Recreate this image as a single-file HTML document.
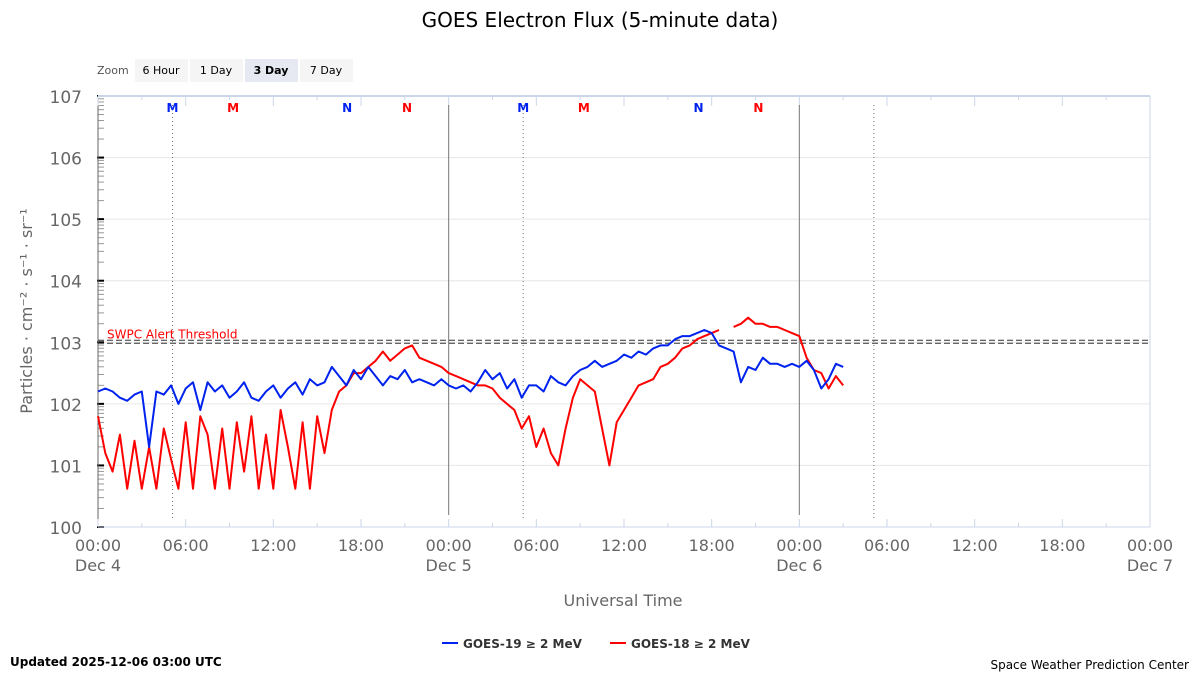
<!DOCTYPE html>
<html><head><meta charset="utf-8"><style>
body{margin:0;background:#fff;font-family:"Liberation Sans","DejaVu Sans",sans-serif}
svg text{font-family:"DejaVu Sans","Liberation Sans",sans-serif}
</style></head><body>
<svg id="c" width="1200" height="675" xmlns="http://www.w3.org/2000/svg">
<text x="600" y="27" text-anchor="middle" font-size="20" fill="#000">GOES Electron Flux (5-minute data)</text>
<text x="97" y="74" font-size="11" fill="#555">Zoom</text>
<g><rect x="135" y="59" width="53" height="23" fill="#f5f5f5"/><text x="161" y="74" text-anchor="middle" font-size="11">6 Hour</text></g>
<g><rect x="190" y="59" width="53" height="23" fill="#f5f5f5"/><text x="216" y="74" text-anchor="middle" font-size="11">1 Day</text></g>
<g><rect x="245" y="59" width="53" height="23" fill="#e6e9f2"/><text x="271" y="74" text-anchor="middle" font-size="11" font-weight="bold">3 Day</text></g>
<g><rect x="300" y="59" width="53" height="23" fill="#f5f5f5"/><text x="326" y="74" text-anchor="middle" font-size="11">7 Day</text></g>
<g id="plot"></g>
<text x="623" y="606" text-anchor="middle" font-size="16" fill="#666">Universal Time</text>
<text transform="translate(32,311) rotate(-90)" text-anchor="middle" font-size="16" fill="#666">Particles · cm⁻² · s⁻¹ · sr⁻¹</text>
<g><line x1="442" y1="643" x2="458" y2="643" stroke="#0022ee" stroke-width="2"/><text x="463" y="648" font-size="12" font-weight="bold" fill="#333">GOES-19 ≥ 2 MeV</text></g>
<g><line x1="610" y1="643" x2="626" y2="643" stroke="#ff0000" stroke-width="2"/><text x="631" y="648" font-size="12" font-weight="bold" fill="#333">GOES-18 ≥ 2 MeV</text></g>
<text x="10" y="666" font-size="12" font-weight="bold" fill="#000">Updated 2025-12-06 03:00 UTC</text>
<text x="1189" y="669" text-anchor="end" font-size="12" fill="#000">Space Weather Prediction Center</text>
</svg>
<script>
const yTicks=[0,1,2,3,4,5,6,7];
const yTickLabels=["100","101","102","103","104","105","106","107"];
const xTicks=[0,6,12,18,24,30,36,42,48,54,60,66,72];
const xTickLabels=["00:00","06:00","12:00","18:00","00:00","06:00","12:00","18:00","00:00","06:00","12:00","18:00","00:00"];
const dayLabels=["Dec 4","Dec 5","Dec 6","Dec 7"];
const threshold=3;
const stepHours=0.5;
const goes19=[2.2,2.25,2.2,2.1,2.05,2.15,2.2,1.3,2.2,2.15,2.3,2.0,2.25,2.35,1.9,2.35,2.2,2.3,2.1,2.2,2.35,2.1,2.05,2.2,2.3,2.1,2.25,2.35,2.15,2.4,2.3,2.35,2.6,2.45,2.3,2.55,2.4,2.6,2.45,2.3,2.45,2.4,2.55,2.35,2.4,2.35,2.3,2.4,2.3,2.25,2.3,2.2,2.35,2.55,2.4,2.5,2.25,2.4,2.1,2.3,2.3,2.2,2.45,2.35,2.3,2.45,2.55,2.6,2.7,2.6,2.65,2.7,2.8,2.75,2.85,2.8,2.9,2.95,2.95,3.05,3.1,3.1,3.15,3.2,3.15,2.95,2.9,2.85,2.35,2.6,2.55,2.75,2.65,2.65,2.6,2.65,2.6,2.7,2.55,2.25,2.4,2.65,2.6];
const goes18=[1.8,1.2,0.9,1.5,0.62,1.4,0.62,1.3,0.62,1.6,1.1,0.62,1.7,0.62,1.8,1.5,0.62,1.6,0.62,1.7,0.9,1.8,0.62,1.5,0.62,1.9,1.3,0.62,1.7,0.62,1.8,1.2,1.9,2.2,2.3,2.5,2.5,2.6,2.7,2.85,2.7,2.8,2.9,2.95,2.75,2.7,2.65,2.6,2.5,2.45,2.4,2.35,2.3,2.3,2.25,2.1,2.0,1.9,1.6,1.8,1.3,1.6,1.2,1.0,1.6,2.1,2.4,2.3,2.2,1.6,1.0,1.7,1.9,2.1,2.3,2.35,2.4,2.6,2.65,2.75,2.9,2.95,3.05,3.1,3.15,3.2,null,3.25,3.3,3.4,3.3,3.3,3.25,3.25,3.2,3.15,3.1,2.75,2.55,2.5,2.25,2.45,2.3];
const L=98,R=1150,T=96,B=527;
const xs=h=>L+(R-L)*h/72, ys=v=>B-(B-T)*v/7;
const NS="http://www.w3.org/2000/svg", g=document.getElementById('plot');
function mk(t,a,p){const e=document.createElementNS(NS,t);for(const k in a)e.setAttribute(k,a[k]);(p||g).appendChild(e);return e;}
yTicks.forEach((v,i)=>{
 const l=mk('line',{x1:L,x2:R,y1:ys(v),y2:ys(v),stroke:'#e6e6e6'});
 
 
 const t=mk('text',{x:82,y:ys(v)+7,'text-anchor':'end','font-size':17,fill:'#666'});t.textContent=yTickLabels[i];
 
 
 for(let m=2;m<10&&v<7;m++){mk('line',{x1:L,x2:L+6,y1:ys(v+Math.log10(m)),y2:ys(v+Math.log10(m)),stroke:'#999'});}
 mk('line',{x1:L-1,x2:L+6,y1:ys(v),y2:ys(v),stroke:'#000','stroke-width':2});
});
mk('line',{x1:L,x2:R,y1:T,y2:T,stroke:'#ccd6eb','stroke-width':2});
mk('line',{x1:R,x2:R,y1:T,y2:B,stroke:'#ccd6eb'});
mk('line',{x1:L,x2:L,y1:T,y2:B,stroke:'#666'});
mk('line',{x1:L,x2:R,y1:B,y2:B,stroke:'#ccd6eb'});
for(let h=0;h<=72;h+=3){mk('line',{x1:xs(h),x2:xs(h),y1:T,y2:T+(h%6?4:10),stroke:'#ccd6eb'});mk('line',{x1:xs(h),x2:xs(h),y1:B,y2:B-(h%6?4:8),stroke:'#ccd6eb'});}
xTicks.forEach((h,i)=>{
 const t=mk('text',{x:xs(h),y:551,'text-anchor':'middle','font-size':16,fill:'#666'});t.textContent=xTickLabels[i];
 
 
 if(h%24===0){const d=mk('text',{x:xs(h),y:571,'text-anchor':'middle','font-size':16,fill:'#666'});d.textContent=dayLabels[h/24];
 
 }
});
[24,48].forEach(h=>mk('line',{x1:xs(h),x2:xs(h),y1:105,y2:515,stroke:'#777'}));
[5.1,29.1,53.1].forEach(h=>mk('line',{x1:xs(h),x2:xs(h),y1:105,y2:520,stroke:'#777','stroke-dasharray':'1,3'}));
[[5.1,'M','#0022ee'],[9.25,'M','#ff0000'],[17.05,'N','#0022ee'],[21.15,'N','#ff0000'],[29.1,'M','#0022ee'],[33.25,'M','#ff0000'],[41.1,'N','#0022ee'],[45.2,'N','#ff0000']].forEach(m=>{
 const t=mk('text',{x:xs(m[0]),y:112,'text-anchor':'middle','font-size':12,'font-weight':'bold',fill:m[2]});t.textContent=m[1];
 
 
});
mk('line',{x1:L,x2:R,y1:ys(threshold)-2,y2:ys(threshold)-2,stroke:'#333','stroke-dasharray':'6,3'});
mk('line',{x1:L,x2:R,y1:ys(threshold)+1,y2:ys(threshold)+1,stroke:'#333','stroke-dasharray':'6,3'});
const th=mk('text',{x:107,y:ys(threshold)-4,'font-size':12,fill:'#ff0000'});th.textContent='SWPC Alert Threshold';


function series(arr,col,name){
 let d='',pen=false;
 arr.forEach((v,i)=>{if(v==null){pen=false;return;}d+=(pen?'L':'M')+xs(i*stepHours).toFixed(1)+','+ys(v).toFixed(1);pen=true;});
 const p=mk('path',{d:d,fill:'none',stroke:col,'stroke-width':2,'stroke-linejoin':'round'});
 
 
}
series(goes18,'#ff0000','goes18-line');
series(goes19,'#0022ee','goes19-line');
</script>
</body></html>
